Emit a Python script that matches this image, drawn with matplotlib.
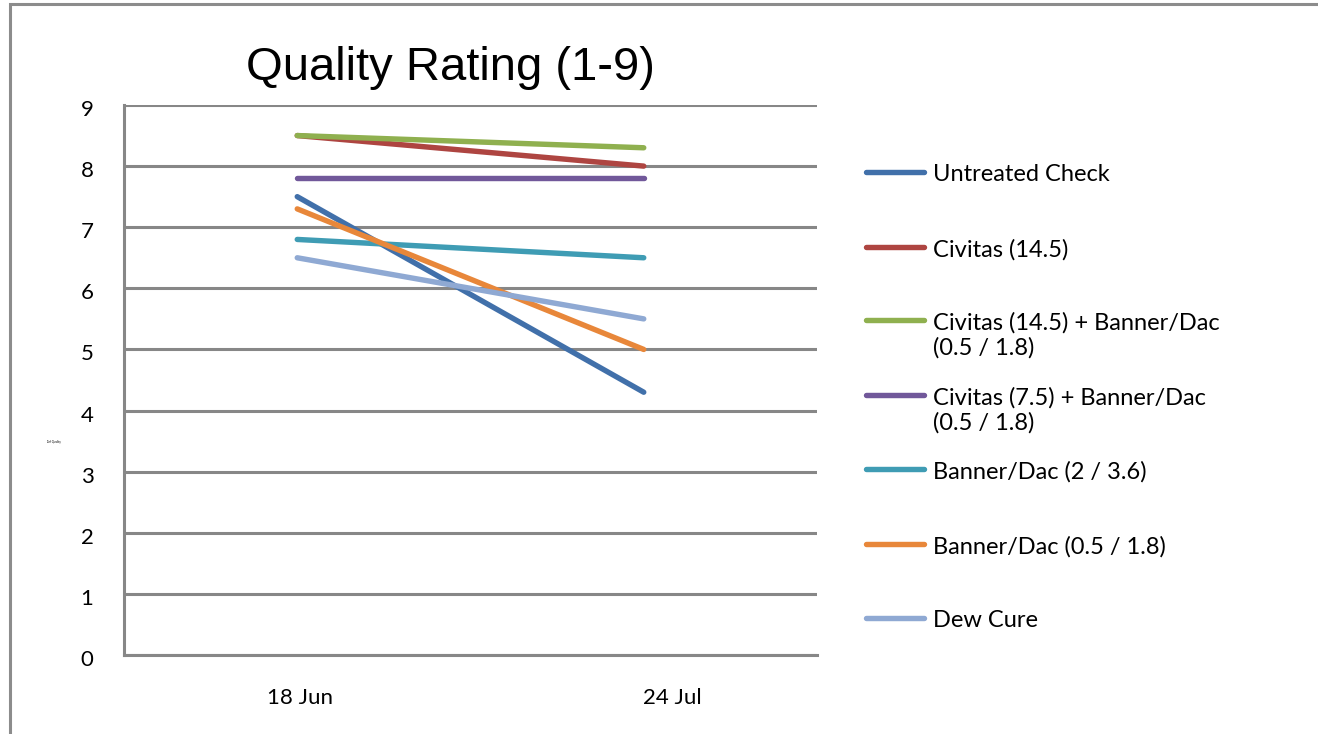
import matplotlib.pyplot as plt
from matplotlib.lines import Line2D
from matplotlib.patches import Rectangle
from matplotlib.transforms import ScaledTranslation

# data
dates = ['18 Jun', '24 Jul']
series_names = ['Untreated Check',
                'Civitas (14.5)',
                'Civitas (14.5) + Banner/Dac\n(0.5 / 1.8)',
                'Civitas (7.5) + Banner/Dac\n(0.5 / 1.8)',
                'Banner/Dac (2 / 3.6)',
                'Banner/Dac (0.5 / 1.8)',
                'Dew Cure']
untreated = [7.5, 4.3]
civitas_145 = [8.5, 8.0]
civitas_145_bd = [8.5, 8.3]
civitas_75_bd = [7.8, 7.8]
banner_2 = [6.8, 6.5]
banner_05 = [7.3, 5.0]
dew_cure = [6.5, 5.5]
all_values = [untreated, civitas_145, civitas_145_bd, civitas_75_bd,
              banner_2, banner_05, dew_cure]
colors = ['#4170AA', '#AE4541', '#8FB04F', '#71589A', '#3F9CB4', '#E8873A', '#8FA9D3']

plt.rcParams['font.family'] = ['Lato', 'DejaVu Sans']

fig = plt.figure(figsize=(13.18, 7.34), dpi=100)
W, H = 1318, 734

# outer chart frame
fig.add_artist(Rectangle((10 / W, -0.05), 1.2, 1 - 4 / H + 0.05, transform=fig.transFigure,
                         fill=False, edgecolor='#8c8c8c', linewidth=2.2))

ax = fig.add_axes([124 / W, 1 - 655 / H, (817 - 124) / W, (655 - 105) / H])
x = range(len(dates))
for vals, c in zip(all_values, colors):
    ax.plot(x, vals, color=c, linewidth=3.9, solid_capstyle='round')

ax.set_xlim(-0.5, 1.5)
ax.set_ylim(0, 9)
ax.set_yticks(range(0, 10))
ax.set_xticks(list(x))
ax.set_xticklabels(dates)
ax.yaxis.grid(True, color='#878787', linewidth=2.2)
ax.set_axisbelow(True)
for s in ['top', 'right']:
    ax.spines[s].set_visible(False)
for s in ['left', 'bottom']:
    ax.spines[s].set_color('#878787')
    ax.spines[s].set_linewidth(2.2)
ax.tick_params(axis='both', length=0, labelsize=16)
ax.tick_params(axis='y', pad=22)
ax.tick_params(axis='x', pad=24)
# Excel places the category labels slightly right of the points
for lab, dx in zip(ax.get_xticklabels(), [3, 29]):
    lab.set_transform(lab.get_transform() + ScaledTranslation(dx / 100, 0, fig.dpi_scale_trans))
for lab in ax.get_yticklabels():
    lab.set_transform(lab.get_transform() + ScaledTranslation(0, -3 / 100, fig.dpi_scale_trans))

fig.text(450 / W, 1 - 80 / H, 'Quality Rating (1-9)', ha='center', va='baseline',
         fontsize=34, family='Liberation Sans')
fig.text(53 / W, 1 - 442 / H, 'Turf Quality', fontsize=2, ha='center', va='center')

# legend drawn by hand to keep Excel's slot layout
slot_y = [172, 247, 320, 395, 469, 544, 618]
for name, c, yy in zip(series_names, colors, slot_y):
    fig.add_artist(Line2D([866 / W, 924 / W], [1 - yy / H, 1 - yy / H], transform=fig.transFigure,
                          color=c, linewidth=3.9, solid_capstyle='round'))
    fig.text(933 / W, 1 - (yy - 8) / H, name, fontsize=17, ha='left', va='top',
             linespacing=1.2)

fig.savefig('out.png', dpi=100)
